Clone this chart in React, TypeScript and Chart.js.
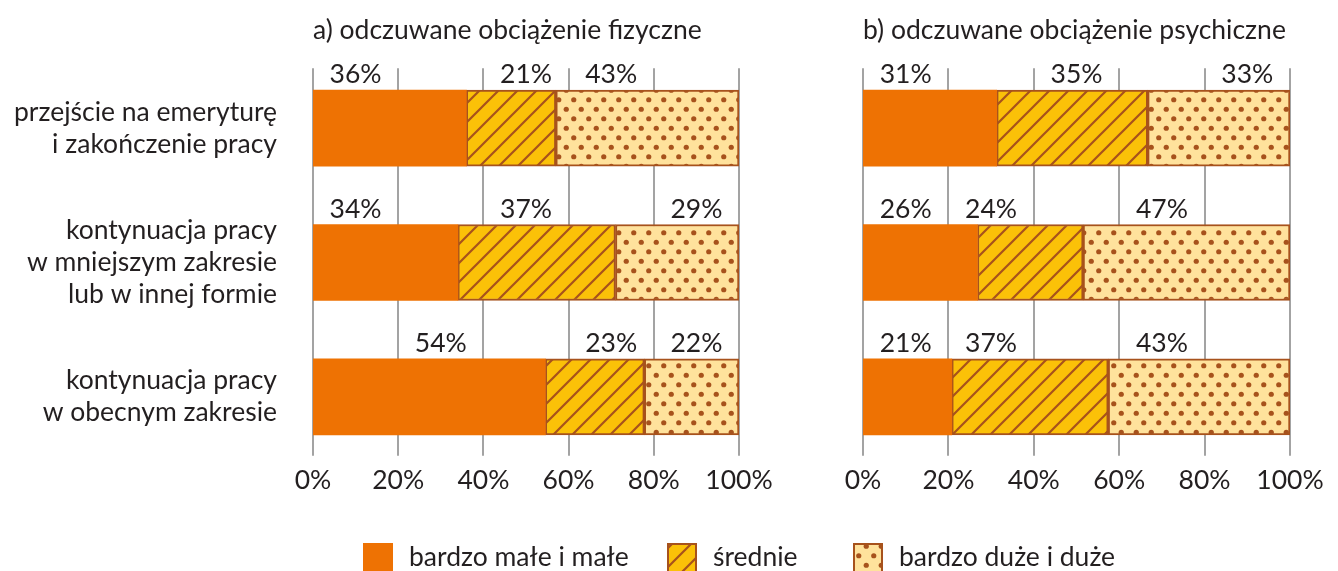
import React, { useEffect, useRef } from "react";
import { Chart, registerables } from "chart.js";
Chart.register(...registerables);

const categories = [
  ["przejście na emeryturę", "i zakończenie pracy"],
  ["kontynuacja pracy", "w mniejszym zakresie", "lub w innej formie"],
  ["kontynuacja pracy", "w obecnym zakresie"],
];
const seriesNames = ["bardzo małe i małe", "średnie", "bardzo duże i duże"];
const titles = ["a) odczuwane obciążenie fizyczne", "b) odczuwane obciążenie psychiczne"];

const physicalLow = [36, 34, 54];
const physicalMid = [21, 37, 23];
const physicalHigh = [43, 29, 22];

const mentalLow = [31, 26, 21];
const mentalMid = [35, 24, 37];
const mentalHigh = [33, 47, 43];

const xTickValues = [0, 20, 40, 60, 80, 100];

const ORANGE = "#EE7203";
const YELLOW = "#FBC108";
const LIGHT = "#FFE29C";
const BROWN = "#A7521C";
const GRID = "#A3A3A3";
const TEXT = "#231F20";
const FONT = "Lato";
const FS = 26.5;

function hatchPattern(): CanvasPattern | string {
  const c = document.createElement("canvas");
  const s = 19;
  c.width = s;
  c.height = s;
  const x = c.getContext("2d")!;
  x.fillStyle = YELLOW;
  x.fillRect(0, 0, s, s);
  x.strokeStyle = BROWN;
  x.lineWidth = 2.2;
  x.beginPath();
  x.moveTo(-2, s + 2);
  x.lineTo(s + 2, -2);
  x.moveTo(-2, 2);
  x.lineTo(2, -2);
  x.moveTo(s - 2, s + 2);
  x.lineTo(s + 2, s - 2);
  x.stroke();
  return x.createPattern(c, "repeat") || YELLOW;
}

function dotPattern(): CanvasPattern | string {
  const c = document.createElement("canvas");
  const w = 15;
  const h = 19;
  c.width = w;
  c.height = h;
  const x = c.getContext("2d")!;
  x.fillStyle = LIGHT;
  x.fillRect(0, 0, w, h);
  x.fillStyle = BROWN;
  const pts = [
    [3.75, 4.75],
    [11.25, 14.25],
  ];
  for (const [px, py] of pts) {
    x.beginPath();
    x.arc(px, py, 2.6, 0, Math.PI * 2);
    x.fill();
  }
  return x.createPattern(c, "repeat") || LIGHT;
}

function normalize(rows: number[][]): number[][] {
  const n = rows[0].length;
  const out = rows.map(() => new Array(n).fill(0));
  for (let j = 0; j < n; j++) {
    let sum = 0;
    for (const r of rows) sum += r[j];
    rows.forEach((r, i) => (out[i][j] = (r[j] / sum) * 100));
  }
  return out;
}

const gridPlugin = {
  id: "customGrid",
  beforeDatasetsDraw(chart: any) {
    const ctx = chart.ctx;
    const xs = chart.scales.x;
    const meta = chart.getDatasetMeta(0).data;
    const first = meta[0] as any;
    const last = meta[meta.length - 1] as any;
    const top = first.y - first.height / 2 - 22;
    const bottom = last.y + last.height / 2 + 21;
    ctx.save();
    ctx.strokeStyle = GRID;
    ctx.lineWidth = 2;
    for (const v of xTickValues) {
      const px = Math.round(xs.getPixelForValue(v));
      ctx.beginPath();
      ctx.moveTo(px, top);
      ctx.lineTo(px, bottom);
      ctx.stroke();
    }
    ctx.restore();
  },
};

const valueLabelPlugin = {
  id: "valueLabels",
  afterDatasetsDraw(chart: any) {
    const ctx = chart.ctx;
    const xs = chart.scales.x;
    const ds = chart.data.datasets;
    const n = chart.data.labels.length;
    ctx.save();
    ctx.font = `${FS}px ${FONT}`;
    ctx.fillStyle = TEXT;
    ctx.textAlign = "center";
    ctx.textBaseline = "alphabetic";
    for (let j = 0; j < n; j++) {
      let start = 0;
      for (let i = 0; i < ds.length; i++) {
        const v = ds[i].data[j];
        const center = start + v / 2;
        start += v;
        const gap = Math.min(4, Math.floor(center / 20));
        const px = xs.getPixelForValue(gap * 20 + 10);
        const el = chart.getDatasetMeta(i).data[j] as any;
        const topY = el.y - el.height / 2;
        ctx.fillText(ds[i].rawValues[j] + "%", px, topY - 7);
      }
    }
    ctx.restore();
  },
};

const titlePlugin = {
  id: "panelTitle",
  afterDraw(chart: any) {
    const ctx = chart.ctx;
    const t = chart.options.plugins.panelTitle?.text;
    if (!t) return;
    ctx.save();
    ctx.font = `${FS}px ${FONT}`;
    ctx.fillStyle = TEXT;
    ctx.textAlign = "left";
    ctx.textBaseline = "alphabetic";
    ctx.fillText(t, chart.chartArea.left, 39);
    ctx.restore();
  },
};

function makeLegendPlugin(fills: (CanvasPattern | string)[]) {
  return {
    id: "customLegend",
    afterDraw(chart: any) {
      const ctx = chart.ctx;
      const box = 30;
      const boxTop = 543;
      const itemStarts = [363, 667, 853];
      ctx.save();
      ctx.font = `${FS}px ${FONT}`;
      ctx.textAlign = "left";
      ctx.textBaseline = "alphabetic";
      seriesNames.forEach((name, i) => {
        const x0 = itemStarts[i];
        ctx.fillStyle = fills[i];
        ctx.fillRect(x0, boxTop, box, box);
        if (i > 0) {
          ctx.strokeStyle = BROWN;
          ctx.lineWidth = 2;
          ctx.strokeRect(x0 + 1, boxTop + 1, box - 2, box - 2);
        }
        ctx.fillStyle = TEXT;
        ctx.fillText(name, x0 + box + 16, 566);
      });
      ctx.restore();
    },
  };
}

function buildConfig(
  raw: number[][],
  title: string,
  showY: boolean,
  yWidth: number,
  rightPad: number,
  fills: (CanvasPattern | string)[],
  extraPlugins: any[]
): any {
  const norm = normalize(raw);
  const datasets = raw.map((r, i) => ({
    label: seriesNames[i],
    data: norm[i],
    rawValues: r,
    backgroundColor: fills[i],
    borderColor: i === 0 ? ORANGE : BROWN,
    borderWidth: i === 0 ? 0 : 2,
    borderSkipped: false,
    barThickness: 76,
  }));
  return {
    type: "bar",
    data: { labels: categories, datasets },
    options: {
      indexAxis: "y",
      responsive: false,
      maintainAspectRatio: false,
      animation: false,
      events: [],
      layout: { padding: { top: 61, right: rightPad, bottom: 0, left: 0 } },
      scales: {
        x: {
          stacked: true,
          min: 0,
          max: 100,
          afterBuildTicks: (s: any) => {
            s.ticks = xTickValues.map((v) => ({ value: v }));
          },
          afterFit: (s: any) => {
            s.height = 107;
            s.paddingLeft = 0;
            s.paddingRight = 0;
          },
          ticks: {
            callback: (v: any) => v + "%",
            font: { family: FONT, size: FS },
            color: TEXT,
            padding: 1,
            maxRotation: 0,
            autoSkip: false,
          },
          grid: { display: false, drawTicks: false },
          border: { display: false },
        },
        y: {
          stacked: true,
          afterFit: (s: any) => {
            s.width = yWidth;
            s.paddingTop = 0;
            s.paddingBottom = 0;
          },
          ticks: {
            display: showY,
            font: { family: FONT, size: FS, lineHeight: 32 / FS },
            color: TEXT,
            padding: 36,
          },
          grid: { display: false, drawTicks: false },
          border: { display: false },
        },
      },
      plugins: {
        legend: { display: false },
        tooltip: { enabled: false },
        title: { display: false },
        panelTitle: { text: title },
      },
    },
    plugins: [gridPlugin, valueLabelPlugin, titlePlugin, ...extraPlugins],
  };
}

export default function App() {
  const leftRef = useRef<HTMLCanvasElement>(null);
  const rightRef = useRef<HTMLCanvasElement>(null);

  useEffect(() => {
    const fills = [ORANGE, hatchPattern(), dotPattern()];
    const left = new Chart(
      leftRef.current!,
      buildConfig([physicalLow, physicalMid, physicalHigh], titles[0], true, 313, 1338 - 739, fills, [])
    );
    const right = new Chart(
      rightRef.current!,
      buildConfig([mentalLow, mentalMid, mentalHigh], titles[1], false, 863, 1338 - 1290, fills, [
        makeLegendPlugin(fills),
      ])
    );
    return () => {
      left.destroy();
      right.destroy();
    };
  }, []);

  return (
    <div style={{ position: "fixed", left: 0, top: 0, width: 1338, height: 571, background: "#fff" }}>
      <canvas ref={leftRef} width={1338} height={571} style={{ position: "absolute", left: 0, top: 0 }} />
      <canvas ref={rightRef} width={1338} height={571} style={{ position: "absolute", left: 0, top: 0 }} />
    </div>
  );
}
